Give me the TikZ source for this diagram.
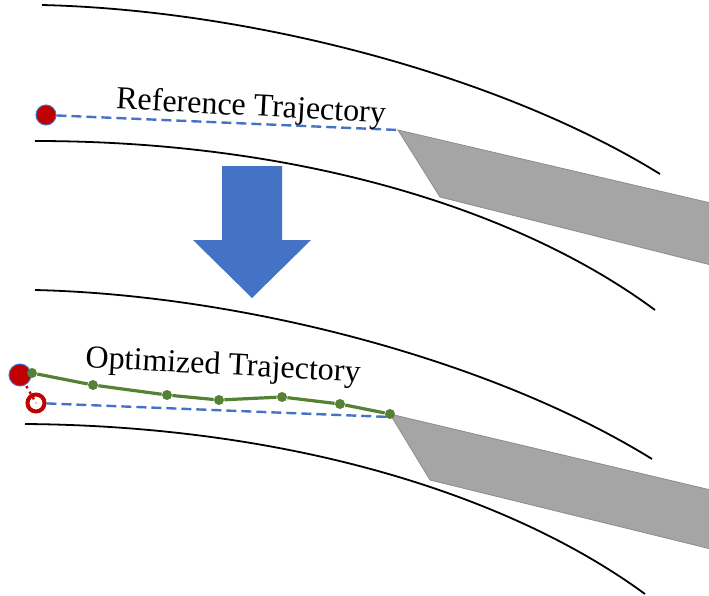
\documentclass[tikz,border=0pt]{standalone}
\usepackage{fontspec}
\setmainfont{Liberation Serif}
\definecolor{trajblue}{HTML}{4472C4}
\definecolor{startred}{HTML}{C00000}
\definecolor{optgreen}{HTML}{548235}
\definecolor{bladegray}{HTML}{A5A5A5}
\definecolor{bladeedge}{HTML}{8C8C8C}
\tikzset{
  every picture/.style={font={\fontsize{16}{19}\selectfont}},
  wall/.style={black, line width=0.9pt},
  blade/.style={fill=bladegray, draw=bladeedge, line width=0.4pt},
  reftraj/.style={trajblue, dash pattern=on 5pt off 2.5pt, line width=1.2pt},
  opttraj/.style={optgreen, line width=1.6pt},
  waypoint/.style={circle, fill=optgreen, inner sep=0pt, minimum size=5pt},
  startpt/.style={circle, fill=startred, draw=trajblue, line width=0.5pt, inner sep=0pt}}

\begin{document}
\begin{tikzpicture}[x=0.5pt, y=-0.5pt]
  \useasboundingbox (0,0) rectangle (709,596);

  % reference trajectory
  \draw[wall] (42,5) .. controls (250,10) and (500,75) .. (660,174);
  \draw[wall] (35,141) .. controls (300,141) and (520,210) .. (655,310);
  \draw[blade] (398,130) -- (715,204) -- (715,266) -- (440,197) -- cycle;
  \node[startpt, minimum size=10pt] (refstart) at (46,115) {};
  \coordinate (refend) at (398,130);
  \draw[reftraj] (refstart) -- (refend);
  \node[rotate=-3] (reflabel) at (251,108) {Reference Trajectory};

  % down arrow
  \fill[trajblue] (222,166) -- (282,166) -- (282,240) -- (311,240) -- (252,298)
    -- (193,240) -- (222,240) -- cycle;

  % optimized trajectory
  \draw[wall] (35,290) .. controls (243,295) and (492,360) .. (652,459);
  \draw[wall] (25,424) .. controls (290,426) and (510,495) .. (645,594);
  \draw[blade] (390,414) -- (715,491) -- (715,550) -- (430,480) -- cycle;
  \node[startpt, minimum size=11pt] (optstart) at (20,375) {};
  \node[circle, draw=startred, line width=2pt, inner sep=0pt, minimum size=8.5pt]
    (oldstart) at (36,403) {};
  \coordinate (oldend) at (390,417);
  \draw[reftraj] (oldstart) -- (oldend);
  \draw[startred, dotted, line width=1.2pt] (optstart.center) -- (oldstart.center);
  \foreach \px/\py [count=\i from 0] in
      {32/373, 93/385, 167/395, 219/400, 282/397, 340/404, 390/414}
    \node[waypoint] (w\i) at (\px,\py) {};
  \draw[opttraj] (w0) -- (w1) -- (w2) -- (w3) -- (w4) -- (w5) -- (w6);
  \node[rotate=-3] (optlabel) at (223,367) {Optimized Trajectory};
\end{tikzpicture}
\end{document}
